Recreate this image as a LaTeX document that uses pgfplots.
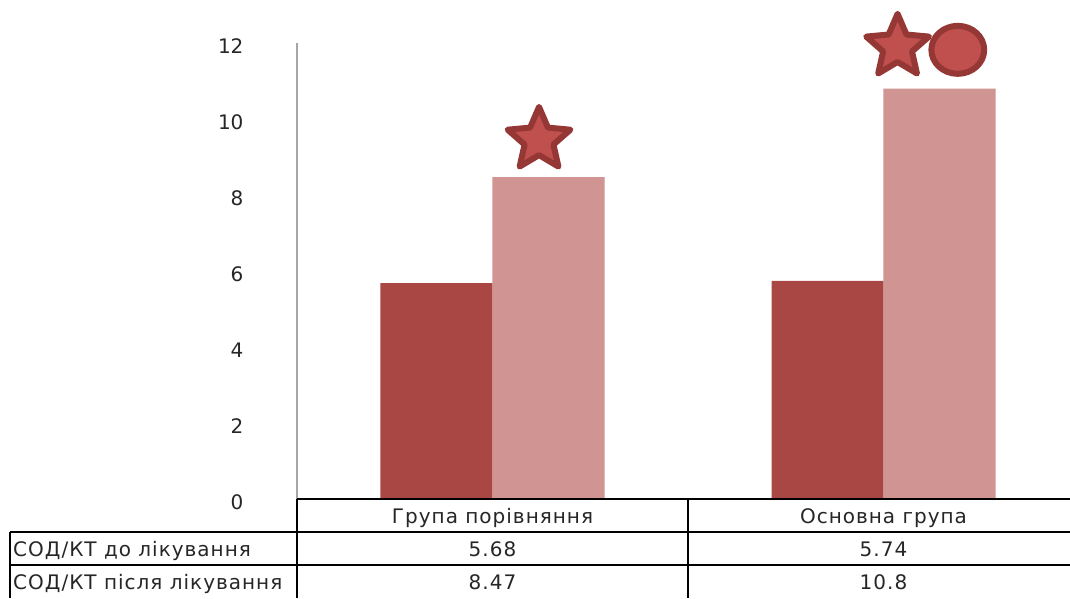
\documentclass[border=0pt]{standalone}
\usepackage{fontspec}
\setmainfont{DejaVu Sans}
\newfontfamily\tabfont[LetterSpace=5]{DejaVu Sans}
\usepackage{pgfplots}
\pgfplotsset{compat=1.18}
\definecolor{darkbar}{HTML}{A94744}
\definecolor{lightbar}{HTML}{D09493}
\definecolor{mkfill}{HTML}{C0504D}
\definecolor{mkedge}{HTML}{953735}
\pgfdeclareplotmark{fstar}{%
  \pgfpathmoveto{\pgfpointpolar{90}{\pgfplotmarksize}}%
  \pgfpathlineto{\pgfpointpolar{126}{0.46\pgfplotmarksize}}%
  \pgfpathlineto{\pgfpointpolar{162}{\pgfplotmarksize}}%
  \pgfpathlineto{\pgfpointpolar{198}{0.46\pgfplotmarksize}}%
  \pgfpathlineto{\pgfpointpolar{234}{\pgfplotmarksize}}%
  \pgfpathlineto{\pgfpointpolar{270}{0.46\pgfplotmarksize}}%
  \pgfpathlineto{\pgfpointpolar{306}{\pgfplotmarksize}}%
  \pgfpathlineto{\pgfpointpolar{342}{0.46\pgfplotmarksize}}%
  \pgfpathlineto{\pgfpointpolar{18}{\pgfplotmarksize}}%
  \pgfpathlineto{\pgfpointpolar{54}{0.46\pgfplotmarksize}}%
  \pgfpathclose
  \pgfusepathqfillstroke
}
\begin{document}
\begin{tikzpicture}[x=1pt,y=1pt]
\useasboundingbox (-297,-99) rectangle (773,499);
\clip (-297,-99) rectangle (773,499);
\begin{axis}[
  scale only axis, width=782pt, height=456pt,
  xmin=-0.5, xmax=1.5, ymin=0, ymax=12,
  ytick={0,2,4,6,8,10,12}, xtick=\empty,
  axis x line=bottom, axis y line=left,
  x axis line style={-, draw=none},
  y axis line style={-, draw=gray!70, line width=1.2pt},
  major tick length=0pt,
  /pgf/number format/assume math mode=true,
  yticklabel style={font=\fontsize{20}{22}\selectfont, text=black!85, xshift=-50pt, yshift=-3pt},
  clip=false,
]
\addplot[ybar, bar width=0.2865, bar shift=-0.1432, fill=darkbar, draw=none]
  coordinates {(0,5.68) (1,5.74)};
\addplot[ybar, bar width=0.2865, bar shift=0.1432, fill=lightbar, draw=none]
  coordinates {(0,8.47) (1,10.8)};
\addplot[only marks, mark=fstar, mark size=33pt,
  mark options={fill=mkfill, draw=mkedge, line width=6pt, line join=round}]
  coordinates {(0.119,9.45) (1.036,11.9)};
\addplot[only marks, mark=*, mark size=24pt,
  mark options={xscale=1.1, fill=mkfill, draw=mkedge, line width=6pt}]
  coordinates {(1.19,11.82)};
\end{axis}
% data table
\draw[line width=1.3pt] (0,0) -- (773,0);
\draw[line width=1.3pt] (-287,-33) -- (773,-33);
\draw[line width=1.3pt] (-287,-66) -- (773,-66);
\draw[line width=1.3pt] (0,0) -- (0,-99);
\draw[line width=1.3pt] (391,0) -- (391,-99);
\draw[line width=1.3pt] (-287,-33) -- (-287,-99);
\begin{scope}[every node/.style={font=\tabfont\fontsize{20}{22}\selectfont, text=black!85, inner sep=0pt, anchor=base}]
\node at (195.5,-24) {Група порівняння};
\node at (586.5,-24) {Основна група};
\node[anchor=base west] at (-284,-57) {СОД/КТ до лікування};
\node[anchor=base west] at (-284,-90) {СОД/КТ після лікування};
\node at (195.5,-57) {5.68};
\node at (586.5,-57) {5.74};
\node at (195.5,-90) {8.47};
\node at (586.5,-90) {10.8};
\end{scope}
\end{tikzpicture}
\end{document}
